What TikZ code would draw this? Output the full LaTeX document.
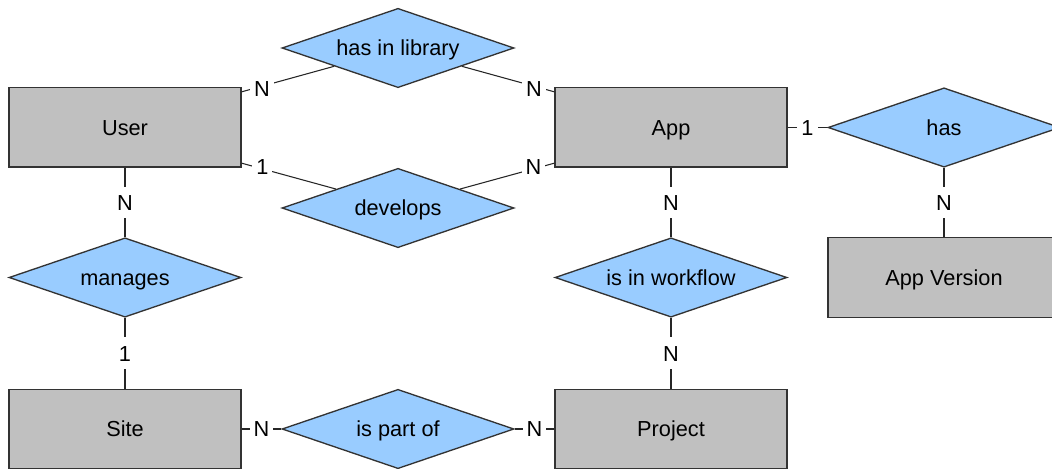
\documentclass[tikz,border=0pt]{standalone}
\usepackage{fontspec}
\setmainfont{Liberation Sans}
\usetikzlibrary{shapes.geometric}
\definecolor{entgray}{HTML}{C0C0C0}
\definecolor{relblue}{HTML}{99CCFF}
\definecolor{edgegray}{HTML}{333333}
\begin{document}
\begin{tikzpicture}[x=0.75pt,y=0.75pt,
		entity/.style={draw=edgegray,fill=entgray,line width=1pt,minimum width=174pt,
			minimum height=59.5pt,inner sep=0pt,text height=11.7pt,text depth=0pt,
			font=\fontsize{16.3}{19}\selectfont},
		relation/.style={diamond,aspect=2.9,draw=edgegray,fill=relblue,line width=1pt,
			minimum width=174pt,minimum height=59.5pt,inner sep=0pt,text height=11.7pt,
			text depth=0pt,font=\fontsize{16.3}{19}\selectfont},
		card/.style={fill=white,inner xsep=3pt,inner ysep=6pt,text height=11.7pt,
			text depth=0pt,font=\fontsize{16.3}{19}\selectfont},
		link/.style={draw=black!85,line width=0.8pt}]
		\useasboundingbox (0,0) rectangle (1052,468);
		\clip (0,0) rectangle (1052,468);
		
		%Entità
		\node[entity] (user) at (125,340.5) {User};
		\node[entity] (app) at (671,340.5) {App};
		\node[entity] (site) at (125,39) {Site};
		\node[entity] (project) at (671,39) {Project};
		\node[entity] (version) at (944,190.5) {App Version};
		
		%Relazioni
		\node[relation] (library) at (398,420) {has in library};
		\node[relation] (develops) at (398,260) {develops};
		\node[relation] (manages) at (125,190.5) {manages};
		\node[relation] (workflow) at (671,190.5) {is in workflow};
		\node[relation] (partof) at (398,39) {is part of};
		\node[relation] (has) at (944,340.5) {has};
		
		%Collegamenti con cardinalità
		\draw[link] (user.17) -- node[card,pos=.22,yshift=-2pt]{N} (library.196);
		\draw[link] (library.344) -- node[card,pos=.78,yshift=-2pt]{N} (app.163);
		\draw[link] (user.-17) -- node[card,pos=.22,yshift=1.5pt]{1} (develops.163);
		\draw[link] (develops.17) -- node[card,pos=.78,yshift=1.5pt]{N} (app.197);
		\draw[link] (user.south) -- node[card]{N} (manages.north);
		\draw[link] (manages.south) -- node[card]{1} (site.north);
		\draw[link] (site.east) -- node[card]{N} (partof.west);
		\draw[link] (partof.east) -- node[card]{N} (project.west);
		\draw[link] (app.south) -- node[card]{N} (workflow.north);
		\draw[link] (workflow.south) -- node[card]{N} (project.north);
		\draw[link] (app.east) -- node[card]{1} (has.west);
		\draw[link] (has.south) -- node[card]{N} (version.north);
\end{tikzpicture}
\end{document}
